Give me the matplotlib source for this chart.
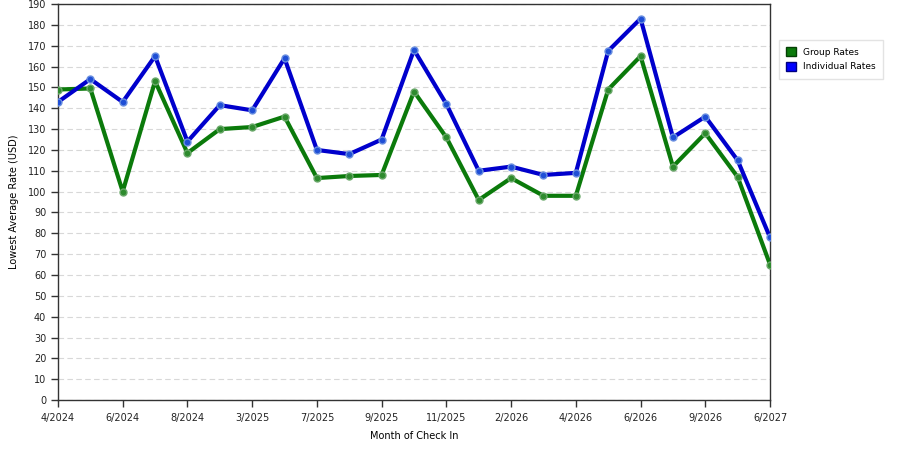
import numpy as np
import matplotlib
matplotlib.use("Agg")
import matplotlib.pyplot as plt
from matplotlib.patches import Patch

# --------------------------------------------
# DATA
# --------------------------------------------

months = [
    "4/2024", "5/2024", "6/2024", "7/2024", "8/2024", "9/2024",
    "3/2025", "4/2025", "7/2025", "8/2025", "9/2025", "10/2025",
    "11/2025", "12/2025", "2/2026", "3/2026", "4/2026", "5/2026",
    "6/2026", "7/2026", "9/2026", "10/2026", "6/2027"
]

tick_labels = [
    "4/2024", "6/2024", "8/2024", "3/2025", "7/2025", "9/2025",
    "11/2025", "2/2026", "4/2026", "6/2026", "9/2026", "6/2027"
]

group_rates = [
    149, 149.5, 100, 153, 118.5, 130, 131, 136, 106.5, 107.5, 108, 148,
    126, 96, 106.5, 98, 98, 149, 165, 112, 128, 107, 65
]

individual_rates = [
    143, 154, 143, 165, 124, 141.5, 139, 164, 120, 118, 125, 168,
    142, 110, 112, 108, 109, 167.5, 183, 126, 136, 115, 78
]

# --------------------------------------------
# PLOT
# --------------------------------------------

plt.rcParams["font.family"] = ["DejaVu Sans"]

fig = plt.figure(figsize=(9, 4.5), dpi=100)
ax = fig.add_axes([0.0644, 0.111, 0.7912, 0.880])

x = np.arange(len(months))

ax.plot(x, group_rates, color="#0b7a0b", linewidth=3, marker="o",
        markersize=5, markerfacecolor="#2e8b2e", markeredgecolor="#6aa86a",
        markeredgewidth=1, zorder=3)
ax.plot(x, individual_rates, color="#0000cc", linewidth=3, marker="o",
        markersize=5, markerfacecolor="#1f4fd6", markeredgecolor="#6a8fe0",
        markeredgewidth=1, zorder=4)

ax.set_xlim(0, len(months) - 1)
ax.set_ylim(0, 190)
ax.set_yticks(np.arange(0, 191, 10))
ax.set_xticks(x[::2])
ax.set_xticklabels(tick_labels)

ax.yaxis.grid(True, color="#d8d8d8", linestyle=(0, (5, 3)), linewidth=0.8)
ax.set_axisbelow(True)

for s in ax.spines.values():
    s.set_color("#333333")
    s.set_linewidth(1)

ax.tick_params(axis="both", labelsize=7, color="#333333", length=5,
               width=1, labelcolor="#222222")
ax.tick_params(axis="x", pad=4)

ax.set_xlabel("Month of Check In", fontsize=7, labelpad=6)
ax.set_ylabel("Lowest Average Rate (USD)", fontsize=7, labelpad=6)

handles = [
    Patch(facecolor="#0b7a0b", edgecolor="#054005", label="Group Rates"),
    Patch(facecolor="#0000ff", edgecolor="#000080", label="Individual Rates"),
]
leg = fig.legend(handles=handles, loc="upper left",
                 bbox_to_anchor=(779 / 900, 1 - 40 / 450), fontsize=6.5,
                 frameon=True, fancybox=False, handlelength=1.1,
                 handleheight=1.1, borderpad=0.8, labelspacing=0.6,
                 borderaxespad=0, handletextpad=0.8)
leg.get_frame().set_edgecolor("#dddddd")
leg.get_frame().set_linewidth(1)

fig.savefig("out.png", dpi=100)
